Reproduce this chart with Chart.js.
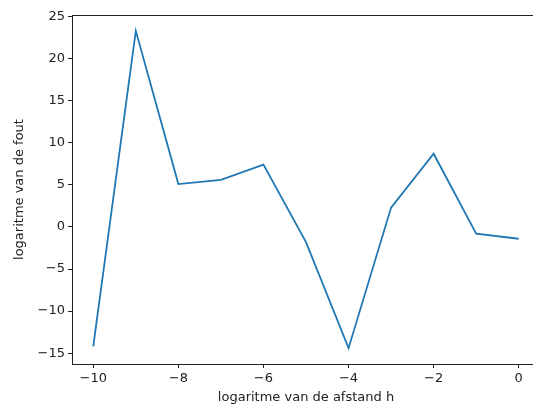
<!DOCTYPE html>
<html>
<head>
<meta charset="utf-8">
<script src="https://cdn.jsdelivr.net/npm/chart.js@4"></script>
<style>
  html, body { margin: 0; padding: 0; background: #fff; overflow: hidden; }
  #wrap { width: 533px; height: 405px; overflow: hidden; position: relative; }
  #wrap canvas { position: absolute; left: 0; top: 0; }
</style>
</head>
<body>
<div id="wrap"><canvas id="c" width="560" height="405"></canvas></div>
<script>
// log10 of the step size h and the log of the resulting error
const logH = [-10, -9, -8, -7, -6, -5, -4, -3, -2, -1, 0];
const logFout = [-14.2, 23.3, 5.1, 5.6, 7.4, -1.8, -14.4, 2.3, 8.7, -0.8, -1.4];
const xTicks = [-10, -8, -6, -4, -2, 0];
const yTicks = [-15, -10, -5, 0, 5, 10, 15, 20, 25];

const FONT = { family: 'DejaVu Sans', size: 13 };
const INK = '#222222';

const fmt = v => (v < 0 ? '\u2212' + Math.abs(v) : String(v));

// top spine across the plot area
const topSpine = {
  id: 'topSpine',
  afterDraw(chart) {
    const { ctx, chartArea } = chart;
    ctx.save();
    ctx.strokeStyle = INK;
    ctx.lineWidth = 1;
    ctx.beginPath();
    ctx.moveTo(chartArea.left, chartArea.top + 0.5);
    ctx.lineTo(chartArea.right, chartArea.top + 0.5);
    ctx.stroke();
    ctx.restore();
  }
};

new Chart(document.getElementById('c'), {
  type: 'line',
  data: {
    datasets: [{
      data: logH.map((x, i) => ({ x, y: logFout[i] })),
      borderColor: '#1f77b4',
      borderWidth: 1.8,
      pointRadius: 0,
      tension: 0,
      fill: false
    }]
  },
  options: {
    responsive: false,
    animation: false,
    layout: { padding: { top: 15, right: 20, left: 0, bottom: 0 } },
    plugins: { legend: { display: false }, tooltip: { enabled: false } },
    scales: {
      x: {
        type: 'linear',
        min: -10.5,
        max: 0.5,
        afterBuildTicks: s => { s.ticks = xTicks.map(v => ({ value: v })); },
        afterFit: s => { s.height = 41; },
        grid: { drawOnChartArea: false, drawTicks: true, tickLength: 4, tickColor: INK },
        border: { display: true, color: INK, width: 1 },
        ticks: { color: INK, font: FONT, padding: 3, maxRotation: 0, callback: v => fmt(v) },
        title: { display: true, text: 'logaritme van de afstand h', color: INK, font: FONT, padding: { top: 0, bottom: 0 } }
      },
      y: {
        min: -16.285,
        max: 25.185,
        afterBuildTicks: s => { s.ticks = yTicks.map(v => ({ value: v })); },
        afterFit: s => { s.width = 72; },
        grid: { drawOnChartArea: false, drawTicks: true, tickLength: 4, tickColor: INK },
        border: { display: true, color: INK, width: 1 },
        ticks: { color: INK, font: FONT, padding: 3, callback: v => fmt(v) },
        title: { display: true, text: 'logaritme van de fout', color: INK, font: FONT, padding: { top: 12, bottom: 0 } }
      }
    }
  },
  plugins: [topSpine]
});
</script>
</body>
</html>
